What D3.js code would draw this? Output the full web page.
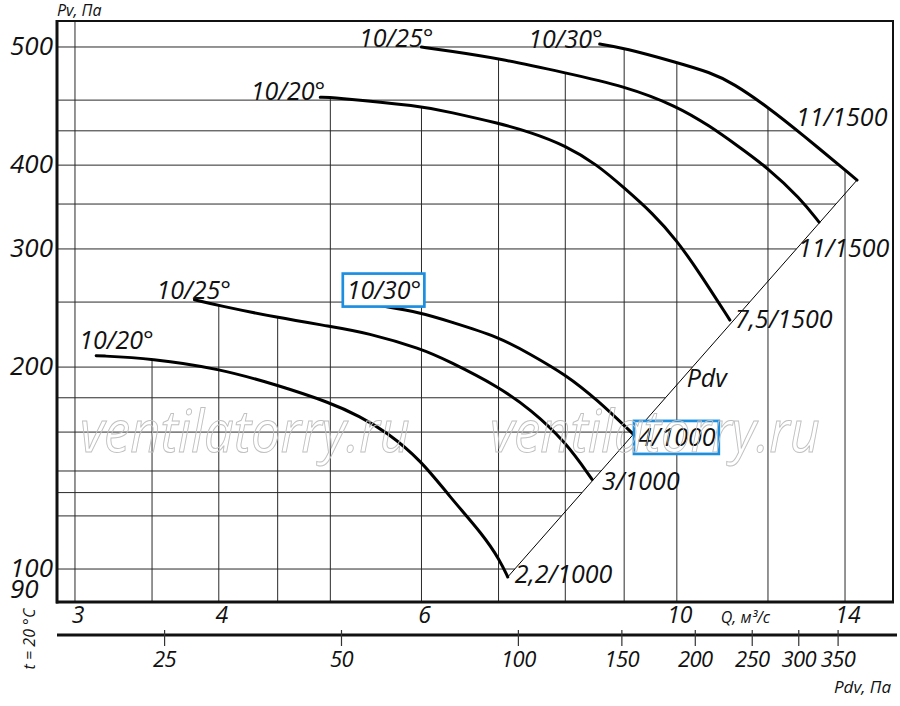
<!DOCTYPE html>
<html>
<head>
<meta charset="utf-8">
<script src="https://cdn.jsdelivr.net/npm/d3@7"></script>
<style>
  body { margin: 0; background: #fff; }
  text { font-family: "Open Sans", sans-serif; font-style: italic; fill: #111; }
  .grid line { stroke: #2a2a2a; stroke-width: 1; }
  .curve { fill: none; stroke: #000; stroke-width: 3; stroke-linejoin: round; stroke-linecap: round; }
  .mark { font-size: 25px; }
  .wm { font-size: 58px; fill: none; stroke: #c0c0c0; stroke-width: 1; }
</style>
</head>
<body>
<div id="chart"></div>
<script>
/* global d3 */
// AXIS VALUES
const qTicks = [3, 4, 6, 10, 14]
const qGrid = [3, 3.5, 4, 4.5, 5, 6, 7, 8, 9, 10, 12, 14]
const pGrid = [100, 120, 130, 140, 160, 180, 200, 250, 300, 350, 400, 450, 500, 600]
const pTicks = [90, 100, 200, 300, 400, 600]
const pTickLabels = ["90", "100", "200", "300", "400", "500"]
const pdvTicks = [25, 50, 100, 150, 200, 250, 300, 350]

// FAN CURVES  [Q m3/s, Pv Pa]
const curveA = [[3.13, 208], [3.5, 206], [4, 199], [4.5, 188], [5, 177], [5.3, 169], [5.6, 160], [6, 145], [6.34, 128.5], [6.79, 112.4], [7.02, 103], [7.13, 97.3]]
const curveB = [[3.81, 252], [4, 247], [4.5, 237], [5, 230], [5.38, 225], [6, 213], [6.34, 204], [7, 187], [7.46, 173], [8, 155], [8.44, 136]]
const curveC = [[5.52, 247], [6, 241], [6.34, 234], [7, 222], [7.46, 209], [8, 195], [8.52, 179], [9.16, 159]]
const curveD = [[4.9, 505], [5, 505], [6, 490], [6.34, 480], [7, 462], [7.46, 448], [8, 428], [8.52, 401], [9, 370], [9.53, 339], [10, 309], [10.47, 276], [11.12, 235]]
const curveE = [[6, 600], [6.34, 592], [7, 577], [8, 549], [9, 525], [10, 490], [10.69, 457], [11.28, 428], [12, 396], [12.8, 357], [13.29, 329]]
const curveF = [[8.57, 606], [9, 598], [10, 569], [10.69, 550], [11.19, 530], [12, 488], [12.8, 447], [14.34, 380]]
const curveNames = ["10/20°", "10/25°", "10/30°", "10/20°", "10/25°", "10/30°"]
const curveRates = ["2,2/1000", "3/1000", "4/1000", "7,5/1500", "11/1500", "11/1500"]
const pdvLine = [[7.13, 97.3], [14.34, 380]]
const pdvLabelAt = [10.2, 187]
const highlighted = 2

// label placement (pixels relative to curve start / end)
const startLabelPos = [["start", -17, -7], ["start", -38, -1], ["start", -33, -7], ["end", 5, 3], ["end", 12, 0], ["end", 3, 4]]
const endLabelPos = [[7, 6], [10, 11], [5, 12], [5, 8], [-21, 35], [-61, -54]]

const W = 900, H = 706
const margin = {top: 21, right: 7, bottom: 104, left: 57}
const width = W - margin.left - margin.right
const height = H - margin.top - margin.bottom

const x = d3.scaleLog().domain([2.894, 15.41]).range([0, width])
const y = d3.scaleLog().domain([89.3, 656]).range([height, 0])
const xPdv = d3.scaleLog().domain([16.4, 434]).range([0, width])

const svg = d3.select("#chart").append("svg")
  .attr("width", W).attr("height", H)
  .append("g")
  .attr("transform", "translate(" + margin.left + "," + margin.top + ")")

const curves = [curveA, curveB, curveC, curveD, curveE, curveF]
const diag = pdvLine.map(d => [x(d[0]), y(d[1])])

const grid = svg.append("g").attr("class", "grid")

// FRAME
svg.append("rect").attr("width", width).attr("height", height)
  .attr("fill", "none").attr("stroke", "#111").attr("stroke-width", 2)
svg.append("line").attr("x1", 0).attr("x2", 0).attr("y1", -1).attr("y2", height + 1.5)
  .attr("stroke", "#111").attr("stroke-width", 3)
svg.append("line").attr("x1", -1).attr("x2", width + 1).attr("y1", height).attr("y2", height)
  .attr("stroke", "#111").attr("stroke-width", 3)

// Pdv system line
svg.append("line")
  .attr("x1", diag[0][0]).attr("y1", diag[0][1])
  .attr("x2", diag[1][0]).attr("y2", diag[1][1])
  .attr("stroke", "#000").attr("stroke-width", 1)

// CURVES
const line = d3.line().x(d => x(d[0])).y(d => y(d[1])).curve(d3.curveBasis)
const paths = svg.selectAll(".curve").data(curves).enter().append("path")
  .attr("class", "curve")
  .attr("d", line)

// sample drawn curves so the grid stops exactly on them
const pix = []
paths.each(function() {
  const len = this.getTotalLength()
  const pts = []
  for (let i = 0; i <= 300; i++) {
    const p = this.getPointAtLength(len * i / 300)
    pts.push([p.x, p.y])
  }
  pix.push(pts)
})

function yAtX(pts, px) {
  if (px < pts[0][0] || px > pts[pts.length - 1][0]) return null
  for (let i = 1; i < pts.length; i++) {
    if (px <= pts[i][0] && pts[i][0] > pts[i - 1][0]) {
      const t = (px - pts[i - 1][0]) / (pts[i][0] - pts[i - 1][0])
      return pts[i - 1][1] + t * (pts[i][1] - pts[i - 1][1])
    }
  }
  return null
}
function xAtY(pts, py) {
  for (let i = 1; i < pts.length; i++) {
    const a = pts[i - 1], b = pts[i]
    if ((py - a[1]) * (py - b[1]) <= 0 && a[1] !== b[1]) {
      return a[0] + (py - a[1]) / (b[1] - a[1]) * (b[0] - a[0])
    }
  }
  return null
}
function diagX(py) {
  const a = diag[0], b = diag[1]
  return a[0] + (py - a[1]) / (b[1] - a[1]) * (b[0] - a[0])
}

// GRID: verticals stop at the top curve, horizontals at the right envelope
grid.selectAll(".v").data(qGrid).enter().append("line")
  .attr("class", "v")
  .attr("x1", d => x(d)).attr("x2", d => x(d))
  .attr("y1", height)
  .attr("y2", d => {
    const ys = pix.map(p => yAtX(p, x(d))).filter(v => v !== null)
    return ys.length ? d3.min(ys) : 0
  })
grid.selectAll(".h").data(pGrid).enter().append("line")
  .attr("class", "h")
  .attr("y1", d => y(d)).attr("y2", d => y(d))
  .attr("x1", 0)
  .attr("x2", d => {
    const py = y(d)
    const xs = pix.map(p => {
      if (py < p[0][1] - 0.5) return null
      if (py <= p[p.length - 1][1]) return xAtY(p, py)
      return diagX(py)
    }).filter(v => v !== null)
    return xs.length ? d3.max(xs) : width
  })

// CURVE LABELS
const labels = svg.append("g")
curves.forEach((c, i) => {
  const s = c[0], e = c[c.length - 1]
  const sp = startLabelPos[i], ep = endLabelPos[i]
  const t1 = labels.append("text").attr("class", "mark")
    .attr("x", x(s[0]) + sp[1]).attr("y", y(s[1]) + sp[2])
    .attr("text-anchor", sp[0])
    .text(curveNames[i])
  const t2 = labels.append("text").attr("class", "mark")
    .attr("x", x(e[0]) + ep[0]).attr("y", y(e[1]) + ep[1])
    .text(curveRates[i])
  if (i === highlighted) {
    [t1, t2].forEach(t => {
      const b = t.node().getBBox()
      const base = +t.attr("y")
      labels.insert("rect", "text")
        .attr("x", b.x - 4).attr("y", base - 25)
        .attr("width", b.width + 7).attr("height", 33)
        .attr("fill", "#fff").attr("stroke", "#1d8fe1").attr("stroke-width", 2.7)
    })
  }
})
svg.append("text").attr("class", "mark")
  .attr("x", x(pdvLabelAt[0])).attr("y", y(pdvLabelAt[1]))
  .text("Pdv")

// Y AXIS LABELS
svg.selectAll(".ylab").data(pTicks).enter().append("text")
  .attr("class", "ylab")
  .style("font-size", "26px")
  .attr("text-anchor", (d, i) => i === 0 ? "start" : "end")
  .attr("x", (d, i) => i === 0 ? -47 : -4)
  .attr("y", (d, i) => i === 0 ? y(d) - 2 : y(d) + 8)
  .text((d, i) => pTickLabels[i])
svg.append("text").style("font-size", "16px")
  .attr("x", 0).attr("y", -5).text("Pv, Па")

// Q AXIS LABELS
svg.selectAll(".xlab").data(qTicks).enter().append("text")
  .attr("class", "xlab")
  .style("font-size", "23px")
  .attr("text-anchor", "middle")
  .attr("x", d => x(d) + 3).attr("y", height + 21)
  .text(d => d)
svg.append("text").style("font-size", "16px")
  .attr("x", x(10) + 44).attr("y", height + 21)
  .text("Q, м³/с")

// Pdv AXIS
const pdvY = height + 33
svg.append("line").attr("x1", 0).attr("x2", width + 4)
  .attr("y1", pdvY).attr("y2", pdvY)
  .attr("stroke", "#111").attr("stroke-width", 3)
svg.selectAll(".ptick").data(pdvTicks).enter().append("line")
  .attr("class", "ptick")
  .attr("x1", d => xPdv(d)).attr("x2", d => xPdv(d))
  .attr("y1", pdvY - 5).attr("y2", pdvY + 11)
  .attr("stroke", "#333").attr("stroke-width", 1.2)
svg.selectAll(".plab").data(pdvTicks).enter().append("text")
  .attr("class", "plab")
  .style("font-size", "22px")
  .style("letter-spacing", "-0.6px")
  .attr("text-anchor", "middle")
  .attr("x", d => xPdv(d)).attr("y", pdvY + 32)
  .text(d => d)
svg.append("text").style("font-size", "17px")
  .attr("text-anchor", "end")
  .attr("x", width - 2).attr("y", height + 91)
  .text("Pdv, Па")
svg.append("text").style("font-size", "16px")
  .attr("text-anchor", "middle")
  .attr("transform", "translate(-22," + (height + 37) + ") rotate(-90)")
  .text("t = 20 °C")

// WATERMARK
const wmarks = [23, 433]
svg.selectAll(".wm").data(wmarks).enter().append("text")
  .attr("class", "wm")
  .attr("x", d => d).attr("y", 431)
  .attr("textLength", 330).attr("lengthAdjust", "spacingAndGlyphs")
  .text("ventilatorry.ru")
</script>
</body>
</html>
